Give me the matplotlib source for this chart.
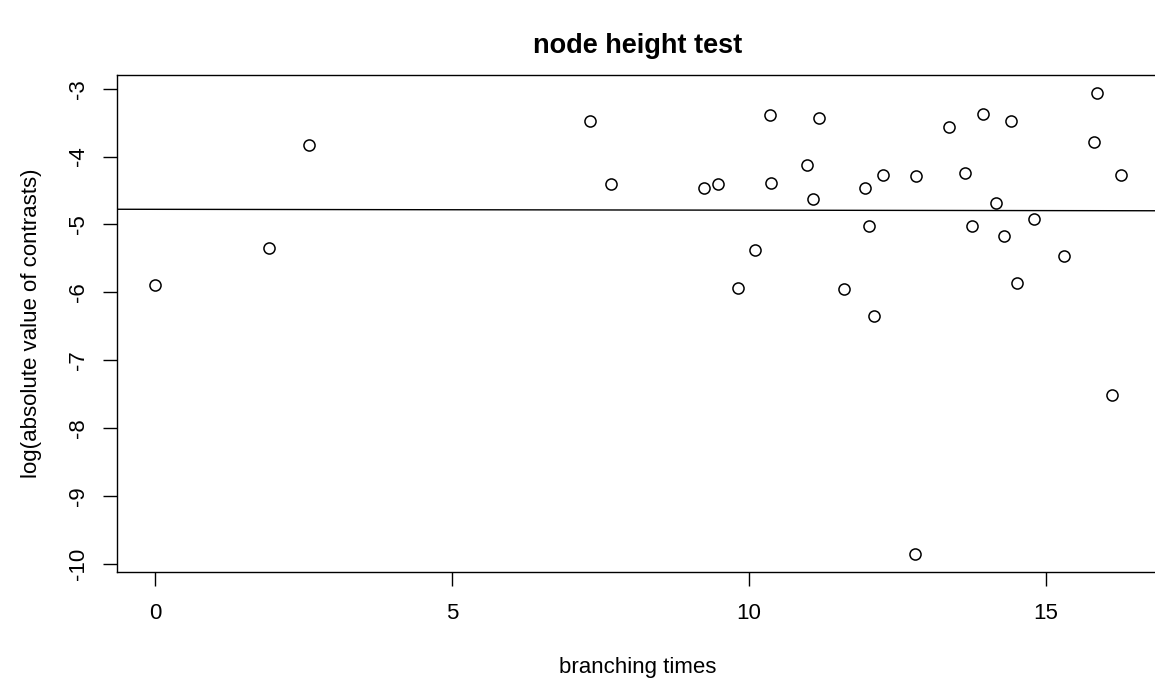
import numpy as np
import matplotlib
matplotlib.use("Agg")
import matplotlib.pyplot as plt

plt.rcParams['font.family'] = ['Liberation Sans', 'DejaVu Sans']

# branching times (x) and log|contrast| (y)
branch_times = [0.0, 1.91, 2.58, 7.32, 7.68, 9.24, 9.47, 9.81, 10.10, 10.35,
                10.37, 10.97, 11.07, 11.18, 11.59, 11.95, 12.01, 12.11, 12.26,
                12.79, 12.81, 13.37, 13.64, 13.75, 13.94, 14.15, 14.29, 14.41,
                14.51, 14.80, 15.31, 15.80, 15.86, 16.11, 16.26]
log_contrasts = [-5.89, -5.35, -3.83, -3.48, -4.41, -4.47, -4.41, -5.93, -5.38,
                 -3.39, -4.39, -4.13, -4.62, -3.43, -5.95, -4.47, -5.03, -6.35,
                 -4.27, -9.85, -4.29, -3.57, -4.24, -5.03, -3.37, -4.68, -5.17,
                 -3.47, -5.86, -4.92, -5.46, -3.79, -3.07, -7.51, -4.27]
xticks = [0, 5, 10, 15]
yticks = [-3, -4, -5, -6, -7, -8, -9, -10]

x = np.array(branch_times)
y = np.array(log_contrasts)

fig = plt.figure(figsize=(11.55, 6.83), dpi=100)
W, H = 1155, 683
ax = fig.add_axes([116.7 / W, (H - 572) / H, (1159.5 - 116.7) / W, (572 - 75) / H])

ax.plot(x, y, 'o', mfc='none', mec='black', ms=8, mew=1.1)

# regression line like abline(lm(y ~ x))
slope, icpt = np.polyfit(x, y, 1)
xl = np.array([-5, 25])
ax.plot(xl, icpt + slope * xl, color='black', lw=1)

# R style 4% padding
xr = x.max() - x.min()
yr = y.max() - y.min()
ax.set_xlim(x.min() - 0.04 * xr, x.max() + 0.04 * xr)
ax.set_ylim(y.min() - 0.04 * yr, y.max() + 0.04 * yr)

ax.set_xticks(xticks)
ax.set_yticks(yticks)
ax.set_yticklabels([str(t) for t in yticks], rotation=90, va='center')
ax.tick_params(length=10, width=1, labelsize=16, pad=12, color='black')
ax.tick_params(axis='y', pad=10)
for s in ax.spines.values():
    s.set_linewidth(1)

ax.set_xlabel('branching times', fontsize=16, labelpad=24)
ax.set_ylabel('log(absolute value of contrasts)', fontsize=16, labelpad=19)
ax.set_title('node height test', fontsize=19.5, fontweight='bold', pad=16)

fig.savefig('out.png', dpi=100)
